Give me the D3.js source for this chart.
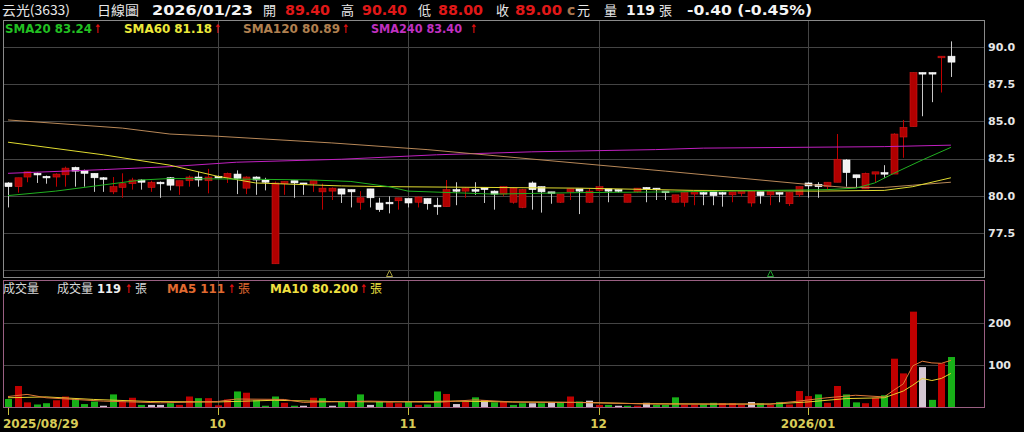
<!DOCTYPE html>
<html><head><meta charset="utf-8">
<script src="https://cdn.jsdelivr.net/npm/d3@7/dist/d3.min.js"></script>
<style>html,body{margin:0;padding:0;background:#000;overflow:hidden}</style>
</head><body><svg id="c" width="1024" height="432"></svg>
<script>
const dates = [
"2025/08/29",
"2025/09/01","2025/09/02","2025/09/03","2025/09/04","2025/09/05","2025/09/08","2025/09/09","2025/09/10","2025/09/11","2025/09/12",
"2025/09/15","2025/09/16","2025/09/17","2025/09/18","2025/09/19","2025/09/22","2025/09/23","2025/09/24","2025/09/25","2025/09/26","2025/09/30",
"2025/10/01","2025/10/02","2025/10/03","2025/10/07","2025/10/08","2025/10/09","2025/10/13","2025/10/14","2025/10/15","2025/10/16","2025/10/17",
"2025/10/20","2025/10/21","2025/10/22","2025/10/23","2025/10/27","2025/10/28","2025/10/29","2025/10/30","2025/10/31",
"2025/11/03","2025/11/04","2025/11/05","2025/11/06","2025/11/07","2025/11/10","2025/11/11","2025/11/12","2025/11/13","2025/11/14",
"2025/11/17","2025/11/18","2025/11/19","2025/11/20","2025/11/21","2025/11/24","2025/11/25","2025/11/26","2025/11/27","2025/11/28",
"2025/12/01","2025/12/02","2025/12/03","2025/12/04","2025/12/05","2025/12/08","2025/12/09","2025/12/10","2025/12/11","2025/12/12",
"2025/12/15","2025/12/16","2025/12/17","2025/12/18","2025/12/19","2025/12/22","2025/12/23","2025/12/24","2025/12/26","2025/12/29","2025/12/30","2025/12/31",
"2026/01/02","2026/01/05","2026/01/06","2026/01/07","2026/01/08","2026/01/09","2026/01/12","2026/01/13","2026/01/14","2026/01/15","2026/01/16",
"2026/01/19","2026/01/20","2026/01/21","2026/01/22","2026/01/23"];

const open = [80.85,80.6,81.25,81.5,81.3,81.25,81.4,81.9,81.7,81.5, 81.2,80.25,80.55,80.8,81.05,80.55,80.9,81.2,80.65,81.0,
81.25,81.0,81.3,81.2,81.45,80.5,81.25,81.05,75.4,80.8, 81.0,80.85,80.8,80.25,80.3,80.45,80.4,79.55,80.45,79.5,
79.55,79.65,79.8,79.55,79.8,79.35,79.25,80.4,80.3,80.4, 80.55,80.3,80.1,79.55,79.2,80.85,80.6,80.25,79.55,80.25,
80.45,79.55,80.35,80.45,80.4,79.55,80.25,80.55,80.5,80.3, 79.55,79.55,80.1,80.2,80.25,80.2,80.05,80.15,79.5,80.25,
80.05,80.2,79.45,80.05,80.85,80.75,80.6,80.9,82.4,81.4, 80.45,81.45,81.55,81.45,83.95,84.65,88.3,88.3,89.3,89.4];
const high = [80.9,81.2,81.6,81.55,81.35,81.5,81.95,81.95,81.75,81.5, 81.25,81.25,81.5,81.2,81.1,81.0,80.95,81.25,81.0,81.35,
81.6,81.8,81.35,81.55,81.7,81.3,81.3,81.2,80.95,80.95, 81.0,80.85,81.0,80.8,80.55,80.45,80.4,80.3,80.45,79.85,
79.95,79.85,79.8,79.95,79.8,79.85,81.05,80.9,80.55,80.9, 80.55,80.35,80.6,80.55,80.45,80.95,80.6,80.25,80.1,80.45,
80.45,80.5,80.6,80.45,80.4,80.1,80.5,80.55,80.5,80.3, 80.05,80.2,80.25,80.25,80.25,80.25,80.25,80.3,80.3,80.25,
80.25,80.2,80.2,80.6,80.9,80.9,80.9,84.15,82.45,81.4, 81.55,81.6,82.05,84.2,85.1,88.3,88.3,88.3,89.4,90.4];
const low = [79.2,80.2,80.9,80.85,80.8,80.6,80.6,80.6,80.6,80.25, 80.25,80.1,79.85,80.4,80.4,80.25,79.85,80.35,80.05,80.6,
80.6,80.15,81.2,80.85,80.1,80.1,80.05,80.35,75.4,80.05, 79.85,80.05,80.25,79.05,79.7,79.5,79.2,79.05,79.2,78.9,
78.8,79.05,79.2,79.2,79.05,78.7,79.25,79.35,79.85,80.05, 79.5,79.05,79.95,79.45,79.15,79.05,78.85,79.45,79.5,79.7,
78.75,79.5,80.3,79.55,80.2,79.55,80.2,79.55,79.7,79.7, 79.5,79.25,79.35,79.35,79.35,79.25,79.55,79.95,79.25,79.45,
79.35,79.55,79.3,79.9,79.85,79.85,80.4,80.9,80.6,80.5, 80.45,80.85,81.2,81.45,82.55,84.65,85.35,86.3,86.95,88.0];
const close = [80.6,81.2,81.6,81.4,81.3,81.45,81.85,81.65,81.5,81.2, 81.2,80.6,80.8,81.05,80.9,80.9,80.9,80.7,81.0,81.25,
81.05,81.25,81.3,81.5,81.15,81.25,81.05,80.9,80.85,80.95, 80.85,80.85,81.0,80.5,80.5,80.1,80.25,79.85,79.85,79.05,
79.55,79.85,79.5,79.9,79.45,79.35,80.4,80.4,80.5,80.4, 80.4,80.1,80.6,80.5,80.4,80.4,80.25,80.25,80.1,80.45,
80.3,80.3,80.6,80.3,80.3,80.1,80.5,80.5,80.4,80.2, 80.05,80.2,80.25,80.2,80.0,80.2,80.25,80.3,80.3,80.0,
80.25,80.1,80.2,80.6,80.65,80.6,80.9,82.45,81.55,81.2, 81.5,81.6,81.55,84.15,84.6,88.3,88.3,88.2,89.4,89.0];
const prevClose = 80.9;
const volume = [19,50,11,6,9,16,25,20,7,13, 3,30,13,22,5,5,5,9,5,25, 21,21,4,18,37,34,16,3,25,10,
3,3,22,21,3,13,13,30,5,13, 11,9,13,5,6,37,31,7,13,23, 16,11,13,5,9,9,9,11,11,25,
13,15,5,5,3,3,3,10,5,5, 23,5,5,6,10,9,9,5,12,9, 5,12,6,38,26,30,10,50,30,11,
9,22,28,115,80,227,95,17,104,119];

// moving averages: [index, value]
const sma20 = [[0,80.0],[5,80.3],[14,81.05],[17,81.15],[26,81.1],[32,81.05],[36,80.95],[40,80.6],[42,80.3],[51,80.1],[60,80.2],[70,80.25],[80,80.35],[86,80.4],[89,80.5],[91,80.85],[93,81.5],[96,82.4],[99,83.25]];
const sma60 = [[0,83.6],[10,82.75],[17,82.05],[22,81.3],[26,80.85],[35,80.65],[40,80.6],[60,80.5],[72,80.35],[85,80.3],[92,80.35],[95,80.6],[99,81.2]];
const sma120 = [[0,85.1],[12,84.55],[17,84.15],[22,84.0],[34,83.55],[44,83.1],[69,81.65],[84,80.75],[88,80.55],[92,80.55],[95,80.7],[99,80.9]];
const sma240 = [[0,81.5],[10,81.75],[17,81.95],[24,82.25],[35,82.45],[45,82.75],[55,82.95],[68,83.1],[73,83.2],[92,83.3],[99,83.4]];
const volMa5 = [[0,25],[2,30],[4,22],[7,18],[10,14],[16,10],[22,13],[24,19],[29,18],[31,11],[38,14],[45,11],[49,17],[53,12],[58,11],[62,10],[68,7],[75,7],[80,7],[83,14],[86,22],[89,28],[92,24],[93,40],[94,55],[95,98],[96,109],[97,105],[98,104],[99,111]];
const volMa10 = [[0,22],[4,24],[9,18],[15,13],[22,12],[28,16],[34,13],[40,12],[47,14],[53,12],[60,11],[66,8],[74,7],[80,7],[84,12],[88,20],[92,22],[93,30],[94,38],[95,52],[96,68],[97,63],[98,68],[99,80]];

const priceGrid = [75,77.5,80,82.5,85,87.5,90];
const priceTicks = [77.5,80,82.5,85,87.5,90];
const volTicks = [100,200];
const monthDates = ["2025/08/29","2025/10/01","2025/11/03","2025/12/01","2026/01/02"];
const monthLabels = ["2025/08/29","10","11","12","2026/01"];
const signalA = [40];
const signalB = [80];

const svg = d3.select('#c');
svg.append('rect').attr('width',1024).attr('height',432).attr('fill','#000');
const x = d3.scalePoint().domain(dates).range([8, 950.9]);
const yP = d3.scaleLinear().domain([75,90]).range([269.7,47.3]);
const yV = d3.scaleLinear().domain([0,200]).range([407,323]);
const X = i => Math.round(x(dates[i])) + 0.5;
const SANS = "'DejaVu Sans', Verdana, sans-serif";
const CJK = "'Noto Sans CJK TC', 'Noto Sans CJK SC', sans-serif";

// grid
const grid = svg.append('g').attr('stroke','#444').attr('shape-rendering','crispEdges');
grid.selectAll('.hp').data(priceGrid).join('line')
  .attr('x1',3).attr('x2',985).attr('y1',d=>Math.round(yP(d))+0.5).attr('y2',d=>Math.round(yP(d))+0.5);
grid.selectAll('.hv').data(volTicks).join('line').attr('class','hv')
  .attr('x1',3).attr('x2',985).attr('y1',d=>Math.round(yV(d))+0.5).attr('y2',d=>Math.round(yV(d))+0.5);
const mIdx = monthDates.slice(1);
grid.selectAll('.vp').data(mIdx).join('line').attr('class','vp')
  .attr('x1',d=>Math.round(x(d))+0.5).attr('x2',d=>Math.round(x(d))+0.5).attr('y1',21).attr('y2',277);
grid.selectAll('.vv').data(mIdx).join('line').attr('class','vv')
  .attr('x1',d=>Math.round(x(d))+0.5).attr('x2',d=>Math.round(x(d))+0.5).attr('y1',281).attr('y2',407);

// frames
svg.append('rect').attr('x',3.5).attr('y',20.5).attr('width',981).attr('height',257)
  .attr('fill','none').attr('stroke','#8a8a8a').attr('shape-rendering','crispEdges');
svg.append('rect').attr('x',3.5).attr('y',280.5).attr('width',981).attr('height',127)
  .attr('fill','none').attr('stroke','#9a5f82').attr('shape-rendering','crispEdges');

// candles
const idx = d3.range(dates.length);
const cg = svg.append('g');
cg.selectAll('line').data(idx).join('line')
  .attr('x1',X).attr('x2',X).attr('y1',i=>yP(high[i])).attr('y2',i=>yP(low[i]))
  .attr('stroke',i=>close[i]>open[i]?'#c00000':'#c8c8c8');
cg.selectAll('rect').data(idx).join('rect')
  .attr('x',i=>X(i)-3.5).attr('width',7)
  .attr('y',i=>yP(Math.max(open[i],close[i])))
  .attr('height',i=>Math.max(yP(Math.min(open[i],close[i]))-yP(Math.max(open[i],close[i])),1.6))
  .attr('fill',i=>close[i]>open[i]?'#b00000':'#f2f2f2')
  .attr('stroke',i=>close[i]>open[i]?'#d01818':'#ffffff').attr('stroke-width',0.6);

// volume bars
const vcol = i => { const p = i===0?prevClose:close[i-1]; return close[i]>p?'#c00000':(close[i]<p?'#18b018':'#d4c6d2'); };
svg.append('g').selectAll('rect').data(idx).join('rect')
  .attr('x',i=>X(i)-3.5).attr('width',7)
  .attr('y',i=>yV(volume[i])).attr('height',i=>407-yV(volume[i]))
  .attr('fill',vcol);

// MA lines
const lineP = d3.line().x(d=>x(dates[d[0]])).y(d=>yP(d[1]));
const lineV = d3.line().x(d=>x(dates[d[0]])).y(d=>yV(d[1]));
[[sma240,'#c020c0'],[sma120,'#b88858'],[sma60,'#e0dc30'],[sma20,'#20b020']].forEach(([d,c])=>{
  svg.append('path').attr('d',lineP(d)).attr('fill','none').attr('stroke',c).attr('stroke-width',1);
});
[[volMa10,'#e8d030'],[volMa5,'#e07838']].forEach(([d,c])=>{
  svg.append('path').attr('d',lineV(d)).attr('fill','none').attr('stroke',c).attr('stroke-width',1);
});

// signal triangles
const tri = (i,c) => svg.append('path')
  .attr('d',`M${X(i)-3},276.5 L${X(i)},270.5 L${X(i)+3},276.5 Z`).attr('fill','none').attr('stroke',c);
signalA.forEach(i=>tri(i,'#a8a040'));
signalB.forEach(i=>tri(i,'#20a030'));

// axis labels
svg.append('g').selectAll('text').data(priceTicks).join('text')
  .attr('x',988).attr('y',d=>yP(d)).attr('dy','0.36em').text(d=>d.toFixed(1))
  .attr('fill','#e6e6e6').attr('font-family',SANS).attr('font-weight','bold').attr('font-size',11);
svg.append('g').selectAll('text').data(volTicks).join('text')
  .attr('x',988).attr('y',d=>yV(d)).attr('dy','0.36em').text(d=>d)
  .attr('fill','#e6e6e6').attr('font-family',SANS).attr('font-weight','bold').attr('font-size',11);
svg.append('g').selectAll('line').data(monthDates).join('line')
  .attr('x1',d=>Math.round(x(d))+0.5).attr('x2',d=>Math.round(x(d))+0.5).attr('y1',408).attr('y2',415)
  .attr('stroke','#c8c040');
svg.append('g').selectAll('text').data(monthDates).join('text')
  .attr('x',(d,i)=>i===0?3:x(d)).attr('y',428).attr('text-anchor',(d,i)=>i===0?'start':'middle')
  .text((d,i)=>monthLabels[i])
  .attr('fill','#d8cc58').attr('font-family',SANS).attr('font-weight','bold').attr('font-size',12);

// header texts
function t(xp, yp, s, col, size, fam, bold, len){
  const e = svg.append('text').attr('x',xp).attr('y',yp).text(s).attr('fill',col)
    .attr('font-size',size).attr('font-family',fam).attr('font-weight',bold?'bold':'normal');
  if(len) e.attr('textLength',len).attr('lengthAdjust','spacingAndGlyphs');
  return e;
}
const W='#e8e8e8', R='#e01818', HY=15;
t(2,HY,'云光(3633)',W,13,CJK,false,68);
t(97,HY,'日線圖',W,13,CJK,false,42);
t(152,HY,'2026/01/23','#f4f4f4',14,SANS,true,101);
t(263,HY,'開',W,13,CJK,false);
t(285,HY,'89.40',R,14,SANS,true,45);
t(341,HY,'高',W,13,CJK,false);
t(362,HY,'90.40',R,14,SANS,true,45);
t(418,HY,'低',W,13,CJK,false);
t(438,HY,'88.00',R,14,SANS,true,45);
t(496,HY,'收',W,13,CJK,false);
t(515,HY,'89.00',R,14,SANS,true,47);
t(567,HY,'c','#a87850',14,SANS,true);
t(577,HY,'元',W,13,CJK,false);
t(604,HY,'量',W,13,CJK,false);
t(626,HY,'119','#f4f4f4',14,SANS,true,29);
t(659,HY,'張',W,13,CJK,false);
t(687,HY,'-0.40 (-0.45%)','#f4f4f4',14,SANS,true,125);

// legend
const ARROW = '#e01010';
const AS = 12;
t(5,33,'SMA20 83.24','#22c022',12,SANS,true,87);
t(94,33,'↑',ARROW,AS,SANS,true,7);
t(124,33,'SMA60 81.18','#ece83a',12,SANS,true,88);
t(214,33,'↑',ARROW,AS,SANS,true,7);
t(243,33,'SMA120 80.89','#b08050',12,SANS,true,97);
t(342,33,'↑',ARROW,AS,SANS,true,7);
t(371,33,'SMA240 83.40','#c030c0',12,SANS,true,91);
t(470,33,'↑',ARROW,AS,SANS,true,7);

t(3,292.5,'成交量','#d8d8d8',12,CJK,false);
t(57,292.5,'成交量','#d8d8d8',12,CJK,false);
t(97,292.5,'119','#f0f0f0',12,SANS,true,24);
t(125,292.5,'↑',ARROW,AS,SANS,true,7);
t(135,292.5,'張','#d8d8d8',12,CJK,false);
t(167,292.5,'MA5 111','#e06a30',12,SANS,true,58);
t(228,292.5,'↑',ARROW,AS,SANS,true,7);
t(238,292.5,'張','#e06a30',12,CJK,false);
t(270,292.5,'MA10 80.200','#f0e040',12,SANS,true,88);
t(360,292.5,'↑',ARROW,AS,SANS,true,7);
t(370,292.5,'張','#f0e040',12,CJK,false);
</script></body></html>
